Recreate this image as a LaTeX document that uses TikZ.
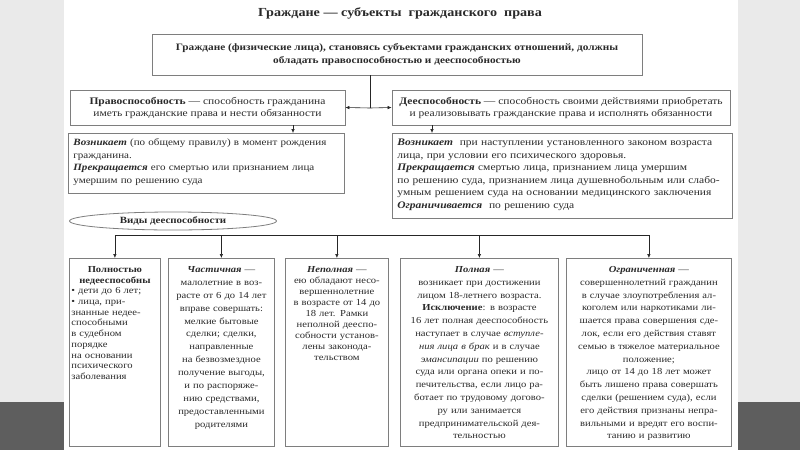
\documentclass[tikz,border=0pt]{standalone}
\usepackage{fontspec}
\setmainfont[FakeStretch=1.15]{Liberation Serif}
\usetikzlibrary{arrows.meta,positioning,calc,shapes.geometric}
\definecolor{SlideGray}{HTML}{EAEAEA}
\definecolor{SlideDark}{HTML}{5E5E5E}
\definecolor{BoxLine}{HTML}{7E7E7E}
\definecolor{TextInk}{HTML}{2A2A2A}

\begin{document}
\begin{tikzpicture}[x=1pt,y=-1pt,
    frame/.style={draw=BoxLine, fill=white, line width=0.8pt, text=TextInk},
    head/.style={frame, align=center, font=\fontsize{10}{12}\selectfont},
    detail/.style={frame, anchor=north west, align=left,
      inner xsep=5pt, inner ysep=4pt, text height=8pt,
      font=\fontsize{10}{12.6}\selectfont},
    kind/.style={frame, anchor=north west, align=center,
      inner xsep=2pt, inner ysep=6pt, text height=8pt, text depth=168pt},
    arr/.style={-{Latex[length=4pt,width=3.5pt]}, line width=0.6pt, color=black!85},
    wire/.style={line width=0.6pt, color=black!85}
  ]

  % slide background
  \useasboundingbox (0,0) rectangle (800,450);
  \fill[SlideGray] (0,0) rectangle (800,450);
  \fill[white] (64,0) rectangle (738,450);
  \fill[SlideDark] (0,402) rectangle (64,450);
  \fill[SlideDark] (738,402) rectangle (800,450);

  \node[text=TextInk, font=\fontsize{12.3}{15}\selectfont\bfseries] (title) at (400,13)
    {Граждане — субъекты\ \ гражданского\ \ права};

  \node[head, minimum width=490pt, minimum height=41pt, font=\fontsize{9.8}{12.5}\selectfont\bfseries]
    (civ) at (397,54.5)
    {Граждане (физические лица), становясь субъектами гражданских отношений, должны\\
     обладать правоспособностью и дееспособностью};

  \node[head, minimum width=275pt, minimum height=35pt] (pravo) at (207.5,107.5)
    {\textbf{Правоспособность} — способность гражданина\\
     иметь гражданские права и нести обязанности};
  \node[head, minimum width=338pt, minimum height=35pt] (dees) at (561,107.5)
    {\textbf{Дееспособность} — способность своими действиями приобретать\\
     и реализовывать гражданские права и исполнять обязанности};

  \node[detail, text width=266pt, text depth=44pt, font=\fontsize{9.6}{12.6}\selectfont]
    (pravoinfo) at (68,133)
    {\textbf{\textit{Возникает}} (по общему правилу) в момент рождения\\
     гражданина.\\
     \textbf{\textit{Прекращается}} его смертью или признанием лица\\
     умершим по решению суда};
  \node[detail, text width=330pt, text depth=69pt] (deesinfo) at (392,133)
    {\textbf{\textit{Возникает}}\ \ при наступлении установленного законом возраста\\
     лица, при условии его психического здоровья.\\
     \textbf{\textit{Прекращается}} смертью лица, признанием лица умершим\\
     по решению суда, признанием лица душевнобольным или слабо-\\
     умным решением суда на основании медицинского заключения\\
     \textbf{\textit{Ограничивается}}\ \ по решению суда};

  \node[ellipse, draw=BoxLine, fill=white, line width=0.8pt, text=TextInk,
        minimum width=207pt, minimum height=18pt, inner sep=0pt,
        font=\fontsize{9.5}{11}\selectfont\bfseries] (vidy) at (173,221)
    {Виды дееспособности};

  \node[kind, align=left, text width=87pt, font=\fontsize{9.2}{10.7}\selectfont] (k1) at (69,258)
    {{\centering\textbf{Полностью}\\ \textbf{недееспособны}\par}
     \textbullet\ дети до 6 лет;\\
     \textbullet\ лица, при-\\
     знанные недее-\\
     способными\\
     в судебном\\
     порядке\\
     на основании\\
     психического\\
     заболевания};
  \node[kind, text width=102pt, font=\fontsize{9.2}{12.9}\selectfont] (k2) at (168,258)
    {\textbf{\textit{Частичная}} —\\
     малолетние в воз-\\
     расте от 6 до 14 лет\\
     вправе совершать:\\
     мелкие бытовые\\
     сделки; сделки,\\
     направленные\\
     на безвозмездное\\
     получение выгоды,\\
     и по распоряже-\\
     нию средствами,\\
     предоставленными\\
     родителями};
  \node[kind, text width=99pt, font=\fontsize{9.2}{11}\selectfont] (k3) at (285,258)
    {\textbf{\textit{Неполная}} —\\
     ею обладают несо-\\
     вершеннолетние\\
     в возрасте от 14 до\\
     18 лет. Рамки\\
     неполной дееспо-\\
     собности установ-\\
     лены законода-\\
     тельством};
  \node[kind, text width=154pt, font=\fontsize{9.2}{12.8}\selectfont] (k4) at (400,258)
    {\textbf{\textit{Полная}} —\\
     возникает при достижении\\
     лицом 18-летнего возраста.\\
     \textbf{Исключение}: в возрасте\\
     16 лет полная дееспособность\\
     наступает в случае \textit{вступле-}\\
     \textit{ния лица в брак} и в случае\\
     \textit{эмансипации} по решению\\
     суда или органа опеки и по-\\
     печительства, если лицо ра-\\
     ботает по трудовому догово-\\
     ру или занимается\\
     предпринимательской дея-\\
     тельностью};
  \node[kind, text width=161pt, font=\fontsize{9.2}{12.8}\selectfont] (k5) at (566,258)
    {\textbf{\textit{Ограниченная}} —\\
     совершеннолетний гражданин\\
     в случае злоупотребления ал-\\
     коголем или наркотиками ли-\\
     шается права совершения сде-\\
     лок, если его действия ставят\\
     семью в тяжелое материальное\\
     положение;\\
     лицо от 14 до 18 лет может\\
     быть лишено права совершать\\
     сделки (решением суда), если\\
     его действия признаны непра-\\
     вильными и вредят его воспи-\\
     танию и развитию};

  % connectors
  \coordinate (fork) at (370,108);
  \draw[wire] (civ.south -| fork) -- (fork);
  \draw[arr] (fork) -- (pravo.east);
  \draw[arr] (fork) -- (dees.west);

  \coordinate (pdrop) at (293,0);
  \coordinate (ddrop) at (432,0);
  \draw[arr] (pravo.south -| pdrop) -- (pravoinfo.north -| pdrop);
  \draw[arr] (dees.south -| ddrop) -- (deesinfo.north -| ddrop);

  \coordinate (bus) at (0,235);
  \draw[wire] (k1.north |- bus) -- (k5.north |- bus);
  \foreach \k in {k1,k2,k3,k4,k5}
    \draw[arr] (\k.north |- bus) -- (\k.north);

\end{tikzpicture}
\end{document}
